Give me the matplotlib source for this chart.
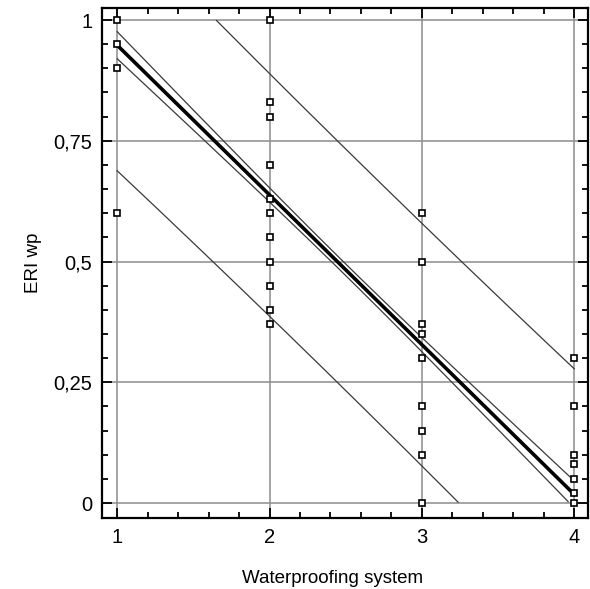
import numpy as np
import matplotlib
matplotlib.use('Agg')
import matplotlib.pyplot as plt
from matplotlib.ticker import MultipleLocator, FuncFormatter

plt.rcParams['font.family'] = ['Liberation Sans', 'DejaVu Sans']

# Observed ERI wp values per waterproofing system
sys1 = [1.0, 0.95, 0.90, 0.60]
sys2 = [1.0, 0.83, 0.80, 0.70, 0.63, 0.60, 0.55, 0.50, 0.45, 0.40, 0.37]
sys3 = [0.60, 0.50, 0.37, 0.35, 0.30, 0.20, 0.15, 0.10, 0.0]
sys4 = [0.30, 0.20, 0.10, 0.08, 0.05, 0.02, 0.0]
systems = [1, 2, 3, 4]

# Fitted line and band parameters
fit_at_1 = 0.948
fit_slope = -0.31
band_center = 2.5
conf_min, conf_end = 0.012, 0.028
pred_min, pred_end = 0.25, 0.26

xx = np.linspace(1, 4, 300)
fit = fit_at_1 + fit_slope * (xx - 1)


def half_width(x, hw_min, hw_end):
    k = (hw_end ** 2 - hw_min ** 2) / (1 - band_center) ** 2
    return np.sqrt(hw_min ** 2 + k * (x - band_center) ** 2)


conf = half_width(xx, conf_min, conf_end)
pred = half_width(xx, pred_min, pred_end)


def clip01(y):
    y = y.copy()
    y[(y > 1.0) | (y < 0.0)] = np.nan
    return y


fig = plt.figure(figsize=(5.9, 5.89), dpi=100)
ax = fig.add_axes([0.173, 0.1205, 0.824, 0.866])

ax.grid(True, which='major', color='#8c8c8c', linewidth=1.1)
ax.set_axisbelow(True)

band_kw = dict(color='#3a3a3a', linewidth=0.9)
ax.plot(xx, clip01(fit + pred), **band_kw)
ax.plot(xx, clip01(fit - pred), **band_kw)
ax.plot(xx, clip01(fit + conf), **band_kw)
ax.plot(xx, clip01(fit - conf), **band_kw)
ax.plot(xx, fit, color='black', linewidth=2.6)

for s, vals in zip(systems, [sys1, sys2, sys3, sys4]):
    ax.plot([s] * len(vals), vals, linestyle='none', marker='s',
            markersize=5, markerfacecolor='white', markeredgecolor='black',
            markeredgewidth=1.2, zorder=5)

ax.set_xlim(0.901, 4.092)
ax.set_ylim(-0.031, 1.025)
ax.xaxis.set_major_locator(MultipleLocator(1))
ax.xaxis.set_minor_locator(MultipleLocator(0.2))
ax.yaxis.set_major_locator(MultipleLocator(0.25))
ax.yaxis.set_minor_locator(MultipleLocator(0.05))
ax.yaxis.set_major_formatter(FuncFormatter(lambda v, p: ('%g' % v).replace('.', ',')))

ax.tick_params(which='both', direction='in', top=True, right=True,
               labelsize=14.5, width=1.3, color='black')
ax.tick_params(which='major', length=7, pad=7)
ax.tick_params(which='minor', length=4)
for sp in ax.spines.values():
    sp.set_linewidth(1.6)

ax.set_xlabel('Waterproofing system', fontsize=13.5)
ax.xaxis.set_label_coords(0.475, -0.102)
ax.set_ylabel('ERI wp', fontsize=13.5, labelpad=8)

fig.savefig('out.png', dpi=100)
